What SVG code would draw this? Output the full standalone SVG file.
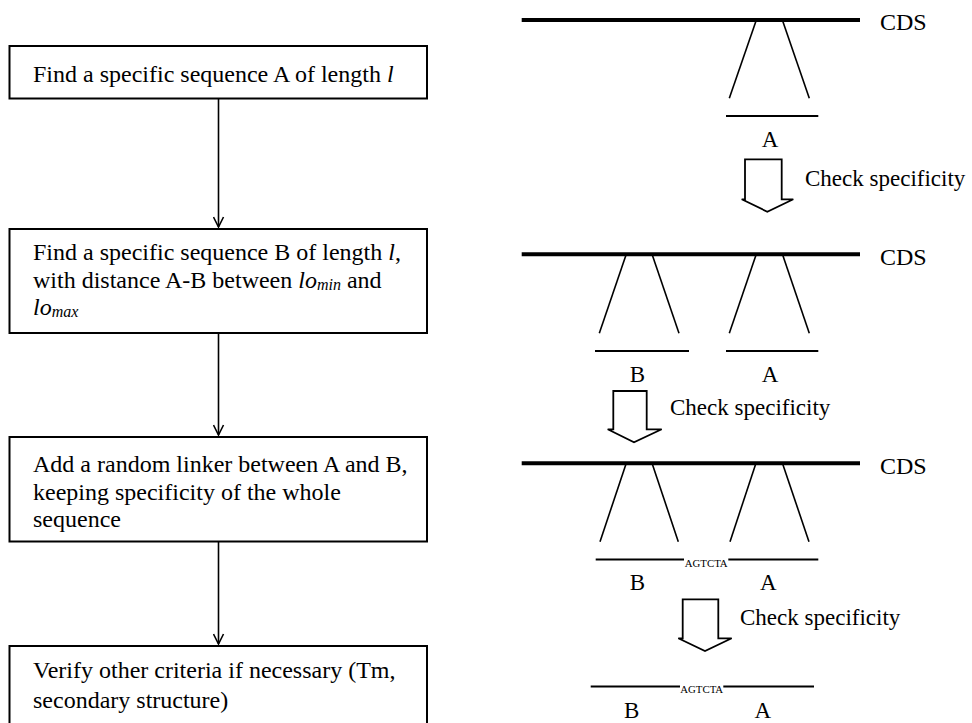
<svg xmlns="http://www.w3.org/2000/svg" width="972" height="723" viewBox="0 0 972 723">
<style>
.box{fill:#fff;stroke:#000;stroke-width:2}
.t{font-family:"Liberation Serif","Times New Roman",serif;font-size:24px;fill:#000}
.r{font-family:"Liberation Serif","Times New Roman",serif;font-size:23px;fill:#000}
.s{font-family:"Liberation Serif","Times New Roman",serif;font-size:10.8px;fill:#000}
.conn{stroke:#000;stroke-width:1.6;fill:none}
.cds{stroke:#000;stroke-width:4}
.leg{stroke:#000;stroke-width:1.6}
.seg{stroke:#000;stroke-width:2}
.blk{fill:#fff;stroke:#000;stroke-width:1.8;stroke-linejoin:miter}
</style>
<defs>
<marker id="v" viewBox="0 0 12 12" refX="11" refY="6" markerWidth="12" markerHeight="12" markerUnits="userSpaceOnUse" orient="auto">
<path d="M1,1 L11,6 L1,11" fill="none" stroke="#000" stroke-width="1.6"/>
</marker>
</defs>

<g id="connectors">
<line class="conn" x1="218.5" y1="99" x2="218.5" y2="227" marker-end="url(#v)"/>
<line class="conn" x1="218.5" y1="333" x2="218.5" y2="435" marker-end="url(#v)"/>
<line class="conn" x1="218.5" y1="542" x2="218.5" y2="644" marker-end="url(#v)"/>
</g>

<g id="box1">
<rect class="box" x="9.5" y="46" width="417.5" height="52.5"/>
<text class="t" x="33" y="82">Find a specific sequence A of length <tspan font-style="italic">l</tspan></text>
</g>

<g id="box2">
<rect class="box" x="9.5" y="229" width="417.5" height="104"/>
<text class="t" x="33" y="260">Find a specific sequence B of length <tspan font-style="italic">l</tspan>,</text>
<text class="t" x="33" y="288">with distance A-B between <tspan font-style="italic">lo</tspan><tspan font-style="italic" font-size="16" dy="2">min</tspan><tspan dy="-2"> and</tspan></text>
<text class="t" x="33" y="315"><tspan font-style="italic">lo</tspan><tspan font-style="italic" font-size="16" dy="2">max</tspan></text>
</g>

<g id="box3">
<rect class="box" x="9.5" y="437" width="417.5" height="104.5"/>
<text class="t" x="33" y="472">Add a random linker between A and B,</text>
<text class="t" x="33" y="500">keeping specificity of the whole</text>
<text class="t" x="33" y="527">sequence</text>
</g>

<g id="box4">
<rect class="box" x="9.5" y="646" width="417.5" height="90"/>
<text class="t" x="33" y="678">Verify other criteria if necessary (Tm,</text>
<text class="t" x="33" y="708">secondary structure)</text>
</g>

<g id="stage1">
<line class="cds" x1="521.7" y1="20" x2="860" y2="20"/>
<text class="t" x="880" y="30">CDS</text>
<line class="leg" x1="756" y1="21" x2="729.3" y2="98.3"/>
<line class="leg" x1="782.7" y1="21" x2="809.3" y2="98.3"/>
<line class="seg" x1="726" y1="116" x2="818.3" y2="116"/>
<text class="r" x="770" y="147" text-anchor="middle">A</text>
<path class="blk" d="M745,159.3 L781.7,159.3 L781.7,199.3 L793.3,199.3 L767.3,211.7 L741.7,199.3 L745,199.3 Z"/>
<text class="r" x="805" y="186">Check specificity</text>
</g>

<g id="stage2">
<line class="cds" x1="521.7" y1="254.3" x2="860" y2="254.3"/>
<text class="t" x="880" y="264.5">CDS</text>
<line class="leg" x1="626" y1="255" x2="599.3" y2="333.3"/>
<line class="leg" x1="652.3" y1="255" x2="679" y2="333.3"/>
<line class="leg" x1="756" y1="255" x2="729.3" y2="333.3"/>
<line class="leg" x1="782.7" y1="255" x2="809.3" y2="333.3"/>
<line class="seg" x1="595" y1="351" x2="689" y2="351"/>
<line class="seg" x1="726" y1="351" x2="818.3" y2="351"/>
<text class="r" x="637.3" y="382" text-anchor="middle">B</text>
<text class="r" x="770" y="382" text-anchor="middle">A</text>
<path class="blk" d="M613.3,391 L646.7,391 L646.7,429.3 L661.7,429.3 L634,442.3 L607.7,429.3 L613.3,429.3 Z"/>
<text class="r" x="670" y="415">Check specificity</text>
</g>

<g id="stage3">
<line class="cds" x1="521.7" y1="463.3" x2="860" y2="463.3"/>
<text class="t" x="880" y="473.5">CDS</text>
<line class="leg" x1="626" y1="464" x2="600" y2="541.7"/>
<line class="leg" x1="652.3" y1="464" x2="678.3" y2="541.7"/>
<line class="leg" x1="755.7" y1="464" x2="730" y2="541.7"/>
<line class="leg" x1="782.7" y1="464" x2="809" y2="541.7"/>
<line class="seg" x1="595.7" y1="559.5" x2="684" y2="559.5"/>
<line class="seg" x1="728.3" y1="559.5" x2="818.3" y2="559.5"/>
<text class="s" x="706.2" y="567" text-anchor="middle">AGTCTA</text>
<text class="r" x="637.3" y="590" text-anchor="middle">B</text>
<text class="r" x="768.3" y="590" text-anchor="middle">A</text>
<path class="blk" d="M682.7,599.3 L718.3,599.3 L718.3,638.3 L731.7,638.3 L705,651 L678.3,638.3 L682.7,638.3 Z"/>
<text class="r" x="740" y="625">Check specificity</text>
</g>

<g id="result">
<line class="seg" x1="590.7" y1="686.5" x2="680" y2="686.5"/>
<line class="seg" x1="723.3" y1="686.5" x2="814" y2="686.5"/>
<text class="s" x="701.7" y="693" text-anchor="middle">AGTCTA</text>
<text class="r" x="631.7" y="718" text-anchor="middle">B</text>
<text class="r" x="762.7" y="718" text-anchor="middle">A</text>
</g>
</svg>
